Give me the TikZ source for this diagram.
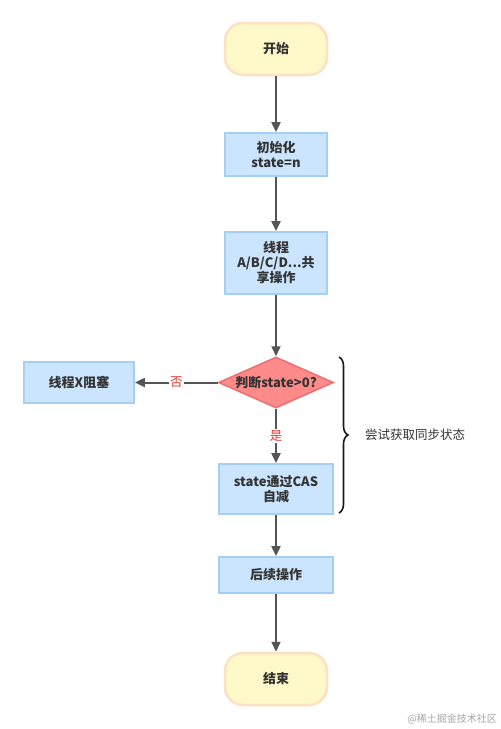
\documentclass[tikz,border=0pt]{standalone}
\usepackage{fontspec}
\newfontfamily\cjk{Noto Sans CJK SC}
\usetikzlibrary{shapes.geometric,arrows.meta,decorations.pathreplacing}
\definecolor{termfill}{HTML}{FFF8C8}
\definecolor{termdraw}{HTML}{FCE2C2}
\definecolor{boxfill}{HTML}{CCE5FF}
\definecolor{boxdraw}{HTML}{A6CFF5}
\definecolor{diafill}{HTML}{FF8A8A}
\definecolor{diadraw}{HTML}{EE6E6E}
\definecolor{linecol}{HTML}{555555}
\definecolor{txt}{HTML}{333333}
\definecolor{lblred}{HTML}{E53935}
\tikzset{
  base/.style={font=\cjk\bfseries\fontsize{13}{15}\selectfont, text=txt, align=center, inner sep=0pt},
  term/.style={base, draw=termdraw, fill=termfill, line width=2.5pt, rounded corners=18pt, minimum width=102pt, minimum height=52pt},
  proc/.style={base, draw=boxdraw, fill=boxfill, line width=1.8pt, minimum width=#1},
  proc/.default=102pt,
  dec/.style={diamond, draw=diadraw, fill=diafill, line width=1.5pt, minimum width=115pt, minimum height=51pt, inner sep=0pt},
  flow/.style={draw=linecol, line width=2pt, -{Triangle[width=9pt,length=10pt]}},
  elabel/.style={font=\cjk\fontsize{12.5}{14}\selectfont, text=lblred, fill=white, inner sep=1.5pt}
}
\begin{document}
\begin{tikzpicture}[x=1pt,y=-1pt]
\useasboundingbox (0,0) rectangle (501,729);
\fill[white] (0,0) rectangle (501,729);
\node[term] (start) at (276,49) {开始};
\node[proc, minimum height=43pt] (init) at (276,154.5) {初始化\\state=n};
\node[proc, minimum height=62pt] (share) at (276,263) {线程\\A/B/C/D...共\\享操作};
\node[dec] (dia) at (276,382.5) {};
\node[base] (dtext) at (dia) {判断state>0?};
\node[proc=110pt, minimum height=41pt] (block) at (79,382.5) {线程X阻塞};
\node[proc=114pt, minimum height=50pt] (cas) at (276,489) {state通过CAS\\自减};
\node[proc=114pt, minimum height=36pt] (follow) at (276,575) {后续操作};
\node[term] (end) at (276,679) {结束};
\draw[flow] (start) -- (init);
\draw[flow] (init) -- (share);
\draw[flow] (share) -- (dia);
\draw[flow] (dia) -- node[elabel] {否} (block);
\draw[flow] (dia) -- node[elabel] {是} (cas);
\draw[flow] (cas) -- (follow);
\draw[flow] (follow) -- (end);
\coordinate (btop) at (339,357);
\coordinate (bbot) at (339,513);
\draw[line width=1.6pt, black!90, decorate, decoration={brace, amplitude=9pt}] (btop) -- (bbot);
\node[anchor=west, font=\cjk\fontsize{12.5}{14}\selectfont, text=txt, inner sep=0pt] (blabel) at (365,435) {尝试获取同步状态};
\node[anchor=east, font=\cjk\fontsize{10}{12}\selectfont, text=black!35, inner sep=0pt] (wm) at (497,719) {@稀土掘金技术社区};
\end{tikzpicture}
\end{document}
